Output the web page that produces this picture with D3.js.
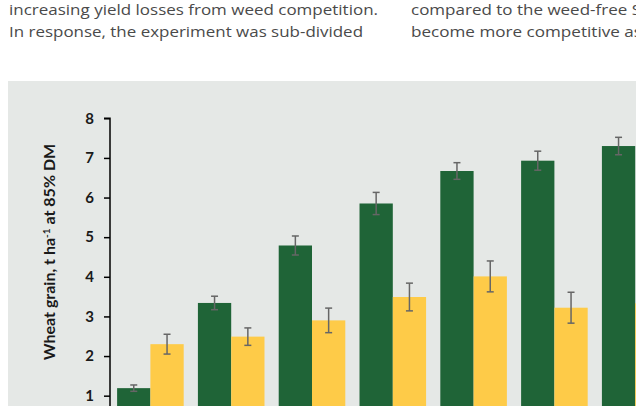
<!DOCTYPE html>
<html>
<head>
<meta charset="utf-8">
<script src="https://d3js.org/d3.v7.min.js"></script>
<style>
  html, body { margin: 0; padding: 0; background: #fff; overflow: hidden; }
  .body-text { font-family: "Open Sans", Lato, sans-serif; font-size: 15px; fill: #4a4a4a; }
  .tick-label { font-family: Lato, "Open Sans", sans-serif; font-weight: bold; font-size: 15px; fill: #1a1a1a; }
</style>
</head>
<body>
<div id="chart"></div>
<script>
  // data (the x labels sit below the visible area)
  var categories = ["A", "B", "C", "D", "E", "F", "G"];
  var seriesNames = ["weedFree", "weedy"];
  var weedFree = [1.19, 3.34, 4.79, 5.85, 6.67, 6.93, 7.30];
  var weedFreeErr = [0.08, 0.17, 0.24, 0.28, 0.21, 0.24, 0.22];
  var weedy = [2.30, 2.49, 2.90, 3.49, 4.01, 3.22, 3.33];
  var weedyErr = [0.25, 0.22, 0.31, 0.35, 0.39, 0.39, 0.35];
  var yTicks = [1, 2, 3, 4, 5, 6, 7, 8];

  var textLeft = ["increasing yield losses from weed competition.", "In response, the experiment was sub-divided"];
  var textRight = ["compared to the weed-free S", "become more competitive as"];
  // measured widths of each line in the page
  var leftWidths = [369, 354];
  var rightWidths = [230, 231];

  var width = 636, height = 406;

  var svg = d3.select("#chart").append("svg")
    .attr("width", width)
    .attr("height", height);

  // page text above the figure
  svg.selectAll(".left-line").data(textLeft).enter()
    .append("text")
    .attr("class", "body-text")
    .attr("x", 9)
    .attr("y", function (d, i) { return 15 + i * 22; })
    .attr("textLength", function (d, i) { return leftWidths[i]; })
    .attr("lengthAdjust", "spacingAndGlyphs")
    .text(function (d) { return d; });

  svg.selectAll(".right-line").data(textRight).enter()
    .append("text")
    .attr("class", "body-text")
    .attr("x", 411)
    .attr("y", function (d, i) { return 15 + i * 22; })
    .attr("textLength", function (d, i) { return rightWidths[i]; })
    .attr("lengthAdjust", "spacingAndGlyphs")
    .text(function (d) { return d; });

  // grey figure panel
  svg.append("rect")
    .attr("x", 8)
    .attr("y", 81)
    .attr("width", 700)
    .attr("height", 400)
    .attr("fill", "#e5e8e6");

  var yScale = d3.scaleLinear()
    .domain([0, 8])
    .range([435.3, 118.3]);

  var xScale = d3.scaleBand()
    .domain(categories)
    .range([110, 110 + 7 * 80.8])
    .paddingInner(0.176)
    .paddingOuter(0.088);

  var xInner = d3.scaleBand()
    .domain(seriesNames)
    .range([0, xScale.bandwidth()]);

  var colors = { weedFree: "#1f6437", weedy: "#fecb48" };

  var rows = categories.map(function (c, i) {
    return [
      { cat: c, key: "weedFree", v: weedFree[i], e: weedFreeErr[i] },
      { cat: c, key: "weedy", v: weedy[i], e: weedyErr[i] }
    ];
  });
  var flat = [].concat.apply([], rows);

  svg.selectAll(".bar")
    .data(flat)
    .enter()
    .append("rect")
    .attr("class", "bar")
    .attr("x", function (d) { return xScale(d.cat) + xInner(d.key); })
    .attr("width", xInner.bandwidth())
    .attr("y", function (d) { return yScale(d.v); })
    .attr("height", function (d) { return yScale(0) - yScale(d.v); })
    .attr("fill", function (d) { return colors[d.key]; });

  // error bars
  var errG = svg.selectAll(".err")
    .data(flat)
    .enter()
    .append("g")
    .attr("class", "err")
    .attr("stroke", "#666")
    .attr("stroke-width", 1.5);

  function cx(d) { return xScale(d.cat) + xInner(d.key) + xInner.bandwidth() / 2; }

  errG.append("line")
    .attr("x1", cx).attr("x2", cx)
    .attr("y1", function (d) { return yScale(d.v + d.e); })
    .attr("y2", function (d) { return yScale(d.v - d.e); });
  errG.append("line")
    .attr("x1", function (d) { return cx(d) - 3.5; })
    .attr("x2", function (d) { return cx(d) + 3.5; })
    .attr("y1", function (d) { return yScale(d.v + d.e); })
    .attr("y2", function (d) { return yScale(d.v + d.e); });
  errG.append("line")
    .attr("x1", function (d) { return cx(d) - 3.5; })
    .attr("x2", function (d) { return cx(d) + 3.5; })
    .attr("y1", function (d) { return yScale(d.v - d.e); })
    .attr("y2", function (d) { return yScale(d.v - d.e); });

  // y axis
  var yAxis = svg.append("g")
    .attr("transform", "translate(110,0)")
    .call(d3.axisLeft(yScale).tickValues(yTicks).tickSize(6).tickPadding(10).tickSizeOuter(0));
  yAxis.select(".domain").attr("stroke", "#000").attr("stroke-width", 1.5)
    .attr("d", "M-6," + yScale(8) + "H0V" + height);
  yAxis.selectAll(".tick line").attr("stroke", "#000").attr("stroke-width", 1.5);
  yAxis.selectAll(".tick text")
    .attr("class", "tick-label")
    .attr("font-family", null).attr("font-size", null);

  var yTitle = svg.append("text")
    .attr("transform", "translate(55,252) rotate(-90)")
    .attr("text-anchor", "middle")
    .style("font-family", "Lato, 'Open Sans', sans-serif")
    .style("font-weight", "bold")
    .style("font-size", "16px")
    .style("fill", "#1a1a1a");
  yTitle.append("tspan").text("Wheat grain, t ha");
  yTitle.append("tspan").attr("dy", -5).style("font-size", "10px").text("-1");
  yTitle.append("tspan").attr("dy", 5).text(" at 85% DM");
</script>
</body>
</html>
